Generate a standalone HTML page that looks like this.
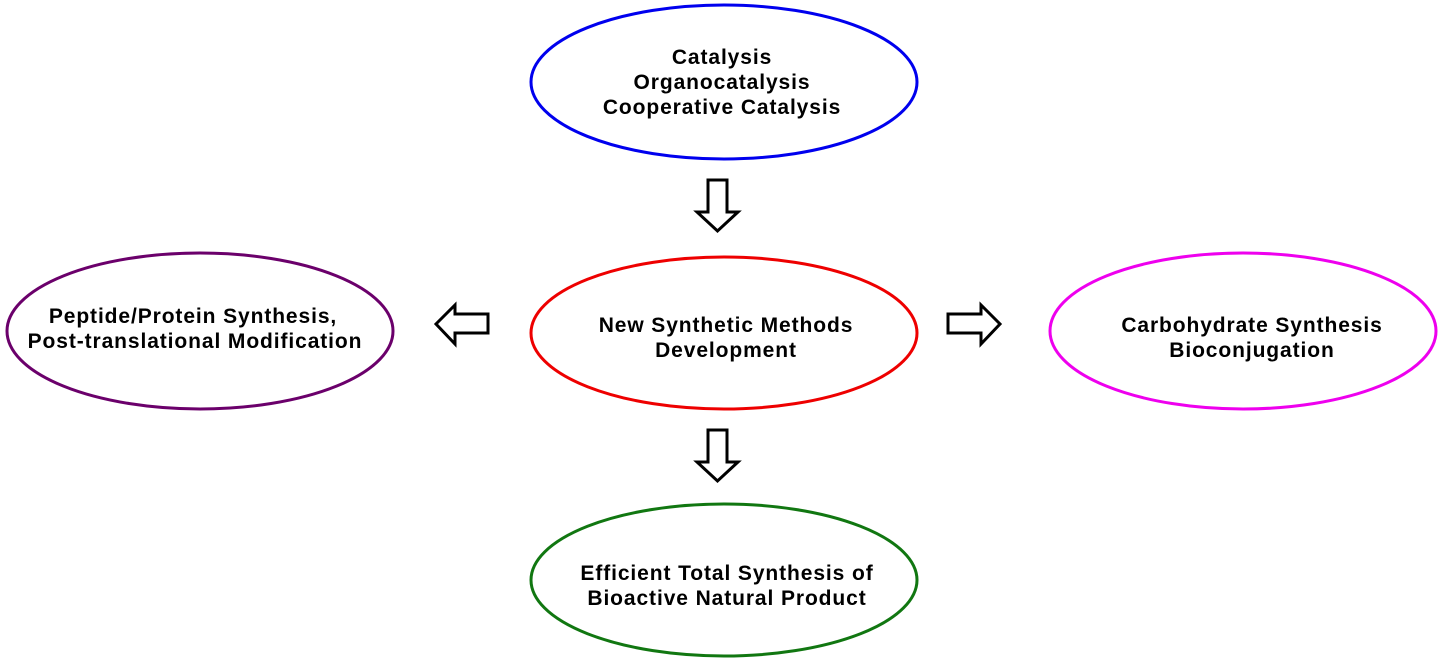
<!DOCTYPE html>
<html><head><style>body{margin:0;background:#fff}svg{display:block}</style></head><body>
<svg width="1445" height="665" xmlns="http://www.w3.org/2000/svg" font-family="Liberation Sans, Arial, sans-serif" font-weight="bold" font-size="21" text-anchor="middle" letter-spacing="0.9">
<ellipse cx="724" cy="82" rx="193" ry="77" fill="#fff" stroke="#0000ee" stroke-width="3"/>
<ellipse cx="724" cy="333" rx="193" ry="76" fill="#fff" stroke="#ee0000" stroke-width="3"/>
<ellipse cx="200" cy="331" rx="193" ry="78" fill="#fff" stroke="#6b006b" stroke-width="3"/>
<ellipse cx="1243" cy="331" rx="193" ry="78" fill="#fff" stroke="#ee00ee" stroke-width="3"/>
<ellipse cx="724" cy="580" rx="193" ry="76" fill="#fff" stroke="#117711" stroke-width="3"/>
<text x="722" y="64">Catalysis</text>
<text x="722" y="89">Organocatalysis</text>
<text x="722" y="114">Cooperative Catalysis</text>
<text x="726" y="332">New Synthetic Methods</text>
<text x="726" y="357">Development</text>
<text x="193" y="323">Peptide/Protein Synthesis,</text>
<text x="195" y="348">Post-translational Modification</text>
<text x="1252" y="332">Carbohydrate Synthesis</text>
<text x="1252" y="357">Bioconjugation</text>
<text x="727" y="580">Efficient Total Synthesis of</text>
<text x="727" y="605">Bioactive Natural Product</text>
<g fill="#fff" stroke="#000" stroke-width="3" stroke-linejoin="miter">
<polygon points="708,180 727,180 727,212 738,212 717.5,231 697,212 708,212"/>
<polygon points="708,430 727,430 727,462 738,462 717.5,481 697,462 708,462"/>
<polygon points="488,314 488,333 455,333 455,344 436,324 455,305 455,314"/>
<polygon points="948,314 948,333 981,333 981,344 1000,324 981,305 981,314"/>
</g>
</svg>
</body></html>
